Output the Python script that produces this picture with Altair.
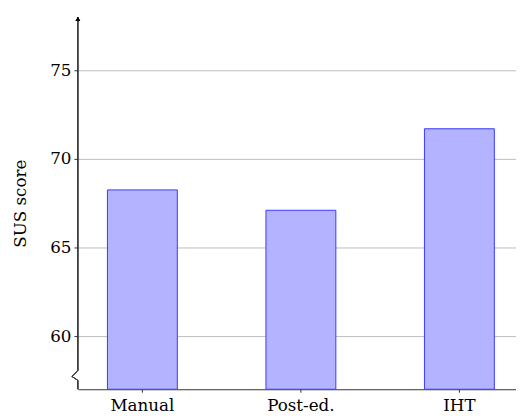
import altair as alt
import pandas as pd

categories = ["Manual", "Post-ed.", "IHT"]
scores = [68.25, 67.1, 71.7]
y_ticks = [60, 65, 70, 75]

df = pd.DataFrame({"cond": categories, "score": scores})

FONT = "DejaVu Serif"
FS = 17
AX = "#333333"
Y_MIN, Y_MAX = 57, 78

x_scale = alt.Scale(domain=categories, paddingInner=0.559, paddingOuter=0.1615, align=0.577)
y_scale = alt.Scale(domain=[Y_MIN, Y_MAX], nice=False, zero=False)

base = alt.Chart(df)

bars = base.mark_bar(fill="#b3b3ff", stroke="#3a3aff", strokeWidth=1).encode(
    x=alt.X("cond:N", scale=x_scale, sort=categories,
            axis=alt.Axis(title=None, labelAngle=0, labelFont=FONT, labelFontSize=FS,
                          labelColor="black", domainColor=AX, domainWidth=1,
                          tickColor=AX, tickSize=3, labelPadding=6, grid=False)),
    y=alt.Y("score:Q", scale=y_scale,
            axis=alt.Axis(title="SUS score", values=y_ticks, titleFont=FONT,
                          titleFontSize=FS, titleFontWeight="normal", titleColor="black",
                          titlePadding=21, labelFont=FONT, labelFontSize=FS,
                          labelColor="black", tickColor=AX, tickSize=4, labelPadding=3,
                          domain=False, grid=True, gridColor="#bdbdbd", gridWidth=1)),
    y2=alt.datum(Y_MIN),
)

axis_line = base.mark_rule(color=AX, strokeWidth=1).encode(
    x=alt.value(0), y=alt.datum(Y_MAX), y2=alt.datum(58.06)
)
zig1 = base.mark_rule(color=AX, strokeWidth=1).encode(
    x=alt.value(0), x2=alt.value(-6), y=alt.datum(58.06), y2=alt.datum(57.72)
)
zig2 = base.mark_rule(color=AX, strokeWidth=1).encode(
    x=alt.value(-6), x2=alt.value(0), y=alt.datum(57.72), y2=alt.datum(57.5)
)
axis_low = base.mark_rule(color=AX, strokeWidth=1).encode(
    x=alt.value(0), y=alt.datum(57.5), y2=alt.datum(Y_MIN)
)
arrow = base.mark_point(shape="triangle-up", filled=True, color="black", size=22,
                        opacity=1, yOffset=2).encode(
    x=alt.value(0), y=alt.datum(Y_MAX)
)

chart = alt.layer(bars, axis_line, zig1, zig2, axis_low, arrow).properties(
    width=445, height=378,
    autosize=alt.AutoSizeParams(type="none"),
    padding={"left": 71, "top": 6, "right": 0, "bottom": 30},
).configure_view(stroke=None)

chart.save("out.html", embed_options={"renderer": "svg", "actions": False})
